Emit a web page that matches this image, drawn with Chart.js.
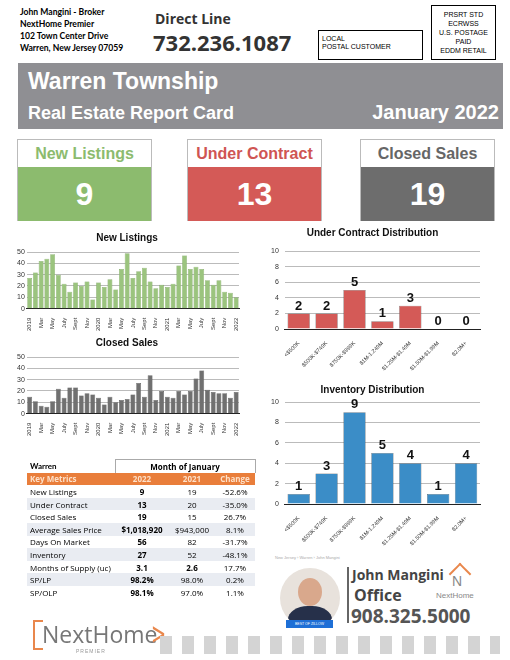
<!DOCTYPE html>
<html>
<head>
<meta charset="utf-8">
<script src="https://cdn.jsdelivr.net/npm/chart.js@4"></script>
<style>
body { margin: 0; width: 510px; height: 660px; position: relative; background: #fff; font-family: "Liberation Sans", Arial, sans-serif; overflow: hidden; }
.abs { position: absolute; }
.box { position: absolute; width: 135px; height: 82px; border: 1px solid #bbb; box-sizing: border-box; }
.box .h { height: 27px; background: #fff; text-align: center; font-size: 16px; font-weight: bold; line-height: 27px; }
.box .v { height: 54px; color: #fff; text-align: center; font-size: 32px; font-weight: bold; line-height: 54px; }
table { border-collapse: collapse; font-family: "Open Sans", sans-serif; font-size: 8px; }
td { padding: 0 3px; height: 12.6px; }
td.n { text-align: center; }
tr.s td { background: #e9ecf2; }
</style>
</head>
<body>
<div class="abs" style="left:20px;top:6px;font-family:Lato;font-weight:bold;font-size:8.6px;line-height:12px;">John Mangini - Broker<br>NextHome Premier<br>102 Town Center Drive<br>Warren, New Jersey 07059</div>
<div class="abs" style="left:155px;top:9px;font-family:'Open Sans';font-weight:bold;font-size:14px;color:#333;">Direct Line</div>
<div class="abs" style="left:153px;top:27px;font-family:'Open Sans';font-weight:bold;font-size:22px;color:#333;">732.236.1087</div>
<div class="abs" style="left:318px;top:30px;width:105px;height:30px;border:1px solid #000;box-sizing:border-box;font-size:7px;padding:4px 3px;line-height:8px;">LOCAL<br>POSTAL CUSTOMER</div>
<div class="abs" style="left:431px;top:5px;width:65px;height:55px;border:1px solid #000;box-sizing:border-box;font-size:7px;text-align:center;padding-top:4px;line-height:9px;">PRSRT STD<br>ECRWSS<br>U.S. POSTAGE<br>PAID<br>EDDM RETAIL</div>
<div class="abs" style="left:18px;top:63px;width:485px;height:66px;background:#8f8f93;color:#fff;font-weight:bold;">
  <div class="abs" style="left:10px;top:5px;font-size:23px;">Warren Township</div>
  <div class="abs" style="left:10px;top:40px;font-size:18px;">Real Estate Report Card</div>
  <div class="abs" style="right:4px;top:38px;font-size:20px;">January 2022</div>
</div>
<div class="box" style="left:17px;top:139px;"><div class="h" style="color:#8cbb6e">New Listings</div><div class="v" style="background:#8cbb6e">9</div></div>
<div class="box" style="left:187px;top:139px;"><div class="h" style="color:#cf5553">Under Contract</div><div class="v" style="background:#d45a57">13</div></div>
<div class="box" style="left:360px;top:139px;"><div class="h" style="color:#666">Closed Sales</div><div class="v" style="background:#6d6d6d">19</div></div>

<div class="abs" style="left:15px;top:232px;width:230px;height:100px;"><canvas id="nl"></canvas></div>
<div class="abs" style="left:15px;top:337px;width:230px;height:100px;"><canvas id="cs"></canvas></div>
<div class="abs" style="left:255px;top:225px;width:250px;height:150px;"><canvas id="uc"></canvas></div>
<div class="abs" style="left:255px;top:382px;width:250px;height:168px;"><canvas id="inv"></canvas></div>

<div class="abs" style="left:27px;top:459px;">
<table>
<tr><td style="font-weight:bold;font-family:Lato;">Warren</td><td colspan="3" class="n" style="font-weight:bold;border:1px solid #aaa;border-bottom:none;">Month of January</td></tr>
<tr style="background:#e97e3b;color:#fde0c8;font-weight:bold;"><td style="width:82px;">Key Metrics</td><td class="n" style="width:48px;">2022</td><td class="n" style="width:40px;">2021</td><td class="n" style="width:34px;">Change</td></tr>
<tr><td>New Listings</td><td class="n"><b>9</b></td><td class="n">19</td><td class="n">-52.6%</td></tr>
<tr class="s"><td>Under Contract</td><td class="n"><b>13</b></td><td class="n">20</td><td class="n">-35.0%</td></tr>
<tr><td>Closed Sales</td><td class="n"><b>19</b></td><td class="n">15</td><td class="n">26.7%</td></tr>
<tr class="s"><td>Average Sales Price</td><td class="n"><b>$1,018,920</b></td><td class="n">$943,000</td><td class="n">8.1%</td></tr>
<tr><td>Days On Market</td><td class="n"><b>56</b></td><td class="n">82</td><td class="n">-31.7%</td></tr>
<tr class="s"><td>Inventory</td><td class="n"><b>27</b></td><td class="n">52</td><td class="n">-48.1%</td></tr>
<tr><td>Months of Supply (uc)</td><td class="n"><b>3.1</b></td><td class="n"><b>2.6</b></td><td class="n">17.7%</td></tr>
<tr class="s"><td>SP/LP</td><td class="n"><b>98.2%</b></td><td class="n">98.0%</td><td class="n">0.2%</td></tr>
<tr><td>SP/OLP</td><td class="n"><b>98.1%</b></td><td class="n">97.0%</td><td class="n">1.1%</td></tr>
</table>
</div>

<div class="abs" style="left:275px;top:555px;font-size:4px;color:#aaa;">New Jersey › Warren › John Mangini</div>
<div class="abs" style="left:280px;top:568px;width:60px;height:60px;border-radius:50%;background:#e8e2dc;overflow:hidden;">
  <div class="abs" style="left:18px;top:10px;width:24px;height:28px;border-radius:50%;background:#d9a88c;"></div>
  <div class="abs" style="left:8px;top:38px;width:44px;height:30px;border-radius:45% 45% 0 0;background:#26304a;"></div>
</div>
<div class="abs" style="left:286px;top:620px;width:47px;height:8px;background:#1e6fd6;color:#fff;font-size:3.5px;line-height:8px;text-align:center;">BEST OF ZILLOW</div>
<div class="abs" style="left:347px;top:567px;width:2px;height:56px;background:#666;"></div>
<div class="abs" style="left:352px;top:565px;font-family:'Open Sans';font-weight:bold;font-size:14px;color:#444;">John Mangini</div>
<div class="abs" style="left:354px;top:584px;font-family:'Open Sans';font-weight:bold;font-size:16px;color:#444;">Office</div>
<div class="abs" style="left:351px;top:603px;font-family:'Open Sans';font-weight:bold;font-size:19px;color:#555;">908.325.5000</div>
<div class="abs" style="top:566px;width:14px;height:14px;left:452px;border:2px solid #e9874c;border-bottom:none;border-right:none;transform:rotate(45deg);"></div>
<div class="abs" style="left:452px;top:573px;font-size:14px;color:#888;">N</div>
<div class="abs" style="left:436px;top:591px;font-size:8px;color:#888;">NextHome</div>

<div class="abs" style="left:33px;top:620px;width:8px;height:26px;border:2px solid #e9874c;border-right:none;"></div>
<div class="abs" style="left:42px;top:618px;font-family:'Open Sans';font-size:23px;color:#777;">NextHome</div>
<div class="abs" style="left:146px;top:616px;font-size:30px;color:#e9874c;font-family:'DejaVu Sans';transform:scaleX(0.6);">&gt;</div>
<div class="abs" style="left:76px;top:648px;font-size:5px;color:#999;letter-spacing:1px;">PREMIER</div>
<div class="abs" style="left:160px;top:636px;width:340px;height:18px;background:repeating-linear-gradient(90deg,#d4d4d4 0 12px,#fff 12px 22px);"></div>

<script>
let monthLabels = ['2019','','Mar','','May','','July','','Sept','','Nov','',
  '2020','','Mar','','May','','July','','Sept','','Nov','',
  '2021','','Mar','','May','','July','','Sept','','Nov','','2022'];
let newListings = [27,32,42,44,48,30,22,15,23,20,24,8,
  23,19,26,17,35,49,27,33,36,24,18,21,
  19,22,38,47,35,37,35,25,21,25,15,14,10];
let closedSales = [15,11,7,6,11,22,14,23,23,16,18,17,
  14,8,15,10,12,13,17,27,15,34,12,20,
  15,14,20,17,20,31,38,21,19,18,18,14,19];
let priceRanges = ['<$500K','$500K-$749K','$750K-$999K','$1M-1.249M','$1.25M-$1.49M','$1.50M-$1.99M','$2.0M+'];
let underContract = [2,2,5,1,3,0,0];
let inventory = [1,3,9,5,4,1,4];

let valueLabels = {
    id: 'valueLabels',
    afterDatasetsDraw(chart) {
        let ctx = chart.ctx;
        let meta = chart.getDatasetMeta(0);
        ctx.save();
        ctx.font = 'bold 13px "Liberation Sans"';
        ctx.fillStyle = '#111';
        ctx.textAlign = 'center';
        ctx.textBaseline = 'bottom';
        meta.data.forEach(function (bar, i) {
            ctx.fillText(chart.data.datasets[0].data[i], bar.x, bar.y - 1);
        });
        ctx.restore();
    }
};

function monthChart(id, title, data, color, border) {
    new Chart(document.getElementById(id), {
        type: 'bar',
        data: { labels: monthLabels, datasets: [{ data: data, backgroundColor: color, borderColor: border, borderWidth: 0.5, barPercentage: 0.85, categoryPercentage: 1 }] },
        options: {
            maintainAspectRatio: false, animation: false,
            layout: { padding: { right: 6 } },
            plugins: { legend: { display: false }, tooltip: { enabled: false },
                title: { display: true, text: title, color: '#111', font: { size: 10, weight: 'bold', family: 'Liberation Sans' }, padding: { top: 0, bottom: 8 } } },
            scales: {
                x: { grid: { display: false }, border: { color: '#222' }, ticks: { autoSkip: false, maxRotation: 90, minRotation: 90, color: '#333', font: { size: 6 }, padding: 1 } },
                y: { min: 0, max: 50, ticks: { stepSize: 10, autoSkip: false, color: '#333', font: { size: 7 }, padding: 2 }, grid: { color: '#bbb', drawTicks: false }, border: { display: false } }
            }
        }
    });
}

function distChart(id, title, data, color, pad) {
    new Chart(document.getElementById(id), {
        type: 'bar',
        data: { labels: priceRanges, datasets: [{ data: data, backgroundColor: color, borderColor: '#555', borderWidth: 0.5, barPercentage: 0.8, categoryPercentage: 1 }] },
        options: {
            maintainAspectRatio: false, animation: false,
            layout: { padding: { left: 10, right: 25 } },
            plugins: { legend: { display: false }, tooltip: { enabled: false },
                title: { display: true, text: title, color: '#111', font: { size: 10, weight: 'bold', family: 'Liberation Sans' }, padding: { top: 2, bottom: pad } } },
            scales: {
                x: { grid: { display: false }, border: { color: '#222' }, ticks: { autoSkip: false, maxRotation: 45, minRotation: 45, color: '#333', font: { size: 5.5 } } },
                y: { min: 0, max: 10, ticks: { stepSize: 2, autoSkip: false, color: '#333', font: { size: 7 }, padding: 6 }, grid: { color: '#bbb', drawTicks: false }, border: { display: false } }
            }
        },
        plugins: [valueLabels]
    });
}

monthChart('nl', 'New Listings', newListings, '#9bc47e', '#6f9a52');
monthChart('cs', 'Closed Sales', closedSales, '#707070', '#444');
distChart('uc', 'Under Contract Distribution', underContract, '#d45a57', 12);
distChart('inv', 'Inventory Distribution', inventory, '#3b8dc7', 6);
</script>
</body>
</html>
